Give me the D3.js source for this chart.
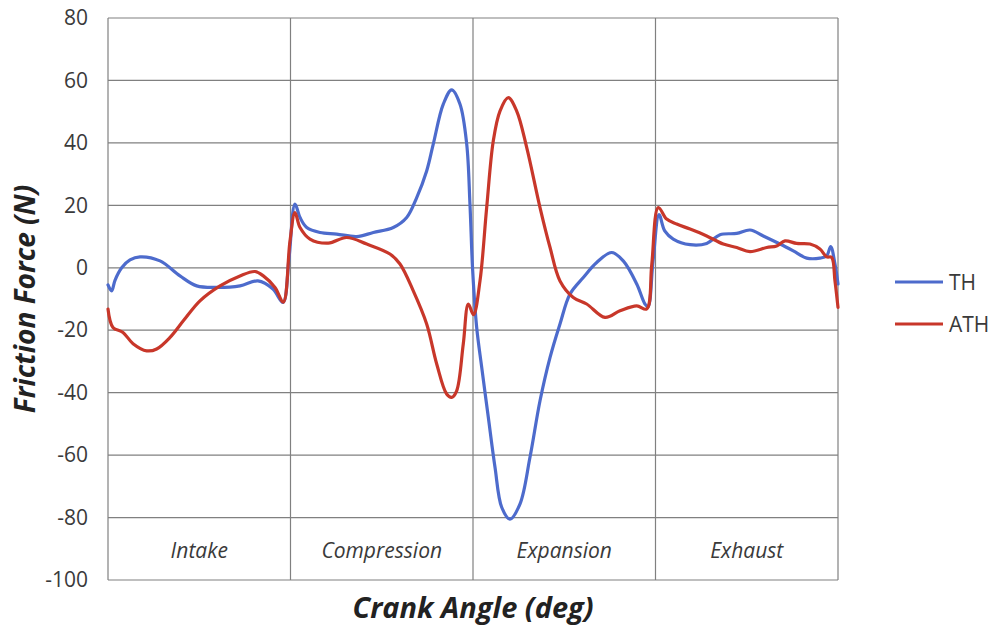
<!DOCTYPE html>
<html>
<head>
<meta charset="utf-8">
<script src="https://cdn.jsdelivr.net/npm/d3@7"></script>
<style>
  html, body { margin: 0; padding: 0; background: #fff; }
  svg { display: block; }
</style>
</head>
<body>
<svg id="chart" width="995" height="626"></svg>
<script>
// Friction force over one four-stroke cycle, 0–720° crank angle
const thAngle = [0, 3.6, 6.9, 13.5, 21.7, 31.6, 51.3, 71, 87.5, 107.2, 130.2, 147.9, 162.7, 172.6, 178.5, 184.4,
  189.4, 196, 209.1, 225.6, 245.3, 261.7, 281.4, 294.6, 304.5, 314.3, 320.8, 330.7, 339, 347.2, 353.8, 357, 359.7,
  363.6, 368.6, 375.1, 381.7, 388.3, 396.5, 406.4, 416.2, 426.1, 436, 445.8, 455.7, 468.8, 482, 496.8, 508.2, 521.5,
  529.6, 532.6, 537.6, 543.5, 549.1, 557.5, 574.1, 590.5, 603.6, 620.1, 633.2, 646.3, 662.8, 675.9, 689.1, 702.2,
  708.8, 712.8, 717, 720];
const thForce = [-5.5, -7.4, -4, 0, 2.5, 3.5, 2.2, -2.6, -5.8, -6.3, -5.8, -4.2, -6.8, -11.1, 3, 20.4,
  16.1, 12.9, 11.3, 10.8, 10, 11.3, 12.9, 16.1, 22.5, 31, 39.6, 52.4, 57, 52.4, 39.6, 20.4, -1,
  -19, -31.9, -47.9, -63.9, -76.7, -80.5, -75.6, -60.7, -42.6, -28.7, -18, -8.4, -3.1, 1.7, 4.9, 2.2, -5.2,
  -11.6, -12.5, 2.2, 17, 11.8, 9.2, 7.4, 7.8, 10.6, 11, 12.1, 10.2, 7.6, 5.4, 3.1, 3.1,
  3.8, 6.8, 1.2, -5.2];

const athAngle = [0, 4.9, 14.8, 24.7, 38.2, 48, 61.2, 74.3, 90.7, 110.5, 130.2, 145, 153.2, 164.7, 172.9, 179.5,
  184.4, 189.4, 199.2, 217.3, 235.4, 255.2, 278.1, 288, 301.1, 314.3, 324.2, 334, 339, 343.9, 350.4, 355.4, 360.5,
  366.9, 373.5, 380, 386.6, 394.8, 403.1, 413, 426.1, 436, 445.8, 458.9, 472.1, 490.2, 505, 521.5, 531.3, 536.3,
  542.8, 551, 560.9, 574.1, 590.5, 606.9, 620.1, 633.2, 649.7, 659.5, 667.7, 679.2, 692.4, 702.2, 708.8, 713.7,
  717, 720];
const athForce = [-13.2, -19.1, -20.7, -24.3, -26.6, -26, -22.3, -17, -10.6, -5.8, -2.6, -1.2, -2.6, -6.3, -11, 8.6,
  17.7, 12.9, 9.2, 7.9, 9.7, 7.6, 4.4, 1.2, -7.4, -18, -30.8, -40.4, -41.5, -39.4, -24.4, -11.6, -15,
  -4.2, 19.3, 40.6, 50.2, 54.5, 50.2, 38.5, 19.3, 6.5, -4.2, -9.5, -11.6, -15.9, -13.8, -12.2, -13.2, 1,
  19.3, 15.6, 14, 12.4, 10.2, 7.6, 6.5, 5.2, 6.5, 7, 8.6, 7.8, 7.6, 6, 3.5, 3.3,
  -4.2, -12.7];

const strokeBounds = [0, 180, 360, 540, 720];
const strokeNames = ["Intake", "Compression", "Expansion", "Exhaust"];
const yTicks = [80, 60, 40, 20, 0, -20, -40, -60, -80, -100];
const seriesNames = ["TH", "ATH"];
const seriesColors = ["#4d6bcc", "#c8372a"];

const svg = d3.select("#chart");
const plotLeft = 108, plotRight = 838, plotTop = 18, plotBottom = 580;

const x = d3.scaleLinear().domain([0, 720]).range([plotLeft, plotRight]);
const y = d3.scaleLinear().domain([-100, 80]).range([plotBottom, plotTop]);

const gridColor = "#808080";
const textColor = "#3a3a3a";

// Tick labels on the force axis (plain hyphen for negatives)
const yAxis = d3.axisLeft(y).tickValues(yTicks).tickSize(0).tickPadding(20)
  .tickFormat(d => String(d));
const gy = svg.append("g").attr("transform", `translate(${plotLeft},0)`).call(yAxis);
gy.select(".domain").remove();
gy.selectAll("text")
  .attr("font-family", "'Open Sans', sans-serif")
  .attr("font-size", 21)
  .attr("fill", textColor);

// Horizontal gridlines
svg.append("g").selectAll("line").data(yTicks).join("line")
  .attr("x1", plotLeft).attr("x2", plotRight)
  .attr("y1", d => y(d)).attr("y2", d => y(d))
  .attr("stroke", gridColor).attr("stroke-width", 1.2);

// Vertical stroke boundaries
svg.append("g").selectAll("line").data(strokeBounds).join("line")
  .attr("x1", d => x(d)).attr("x2", d => x(d))
  .attr("y1", plotTop).attr("y2", plotBottom)
  .attr("stroke", gridColor).attr("stroke-width", 1.2);

// Stroke names centred in each segment
svg.append("g").selectAll("text").data(strokeNames).join("text")
  .attr("x", (d, i) => x((strokeBounds[i] + strokeBounds[i + 1]) / 2))
  .attr("y", 558)
  .attr("text-anchor", "middle")
  .attr("font-family", "'Open Sans', sans-serif")
  .attr("font-style", "italic")
  .attr("font-size", 21)
  .attr("fill", textColor)
  .text(d => d);

// Curves
const line = d3.line()
  .x(d => x(d[0]))
  .y(d => y(d[1]))
  .curve(d3.curveCatmullRom.alpha(0.5));

const series = [
  d3.zip(thAngle, thForce),
  d3.zip(athAngle, athForce)
];

svg.append("g").selectAll("path").data(series).join("path")
  .attr("d", line)
  .attr("fill", "none")
  .attr("stroke", (d, i) => seriesColors[i])
  .attr("stroke-width", 3.2)
  .attr("stroke-linejoin", "round")
  .attr("stroke-linecap", "round");

// Axis titles
svg.append("text")
  .attr("x", 473).attr("y", 618)
  .attr("text-anchor", "middle")
  .attr("font-family", "'Open Sans', sans-serif")
  .attr("font-weight", "bold")
  .attr("font-style", "italic")
  .attr("font-size", 29)
  .attr("fill", "#222")
  .text("Crank Angle (deg)");

svg.append("text")
  .attr("transform", `translate(35,299) rotate(-90)`)
  .attr("text-anchor", "middle")
  .attr("font-family", "'Open Sans', sans-serif")
  .attr("font-weight", "bold")
  .attr("font-style", "italic")
  .attr("font-size", 28)
  .attr("fill", "#222")
  .text("Friction Force (N)");

// Legend
const legend = svg.append("g").selectAll("g").data(seriesNames).join("g")
  .attr("transform", (d, i) => `translate(895,${282 + i * 42})`);
legend.append("line")
  .attr("x1", 0).attr("x2", 48)
  .attr("stroke", (d, i) => seriesColors[i])
  .attr("stroke-width", 3.2);
legend.append("text")
  .attr("x", 54).attr("y", 8)
  .attr("font-family", "'Open Sans', sans-serif")
  .attr("font-size", 21)
  .attr("fill", textColor)
  .text(d => d);
</script>
</body>
</html>
